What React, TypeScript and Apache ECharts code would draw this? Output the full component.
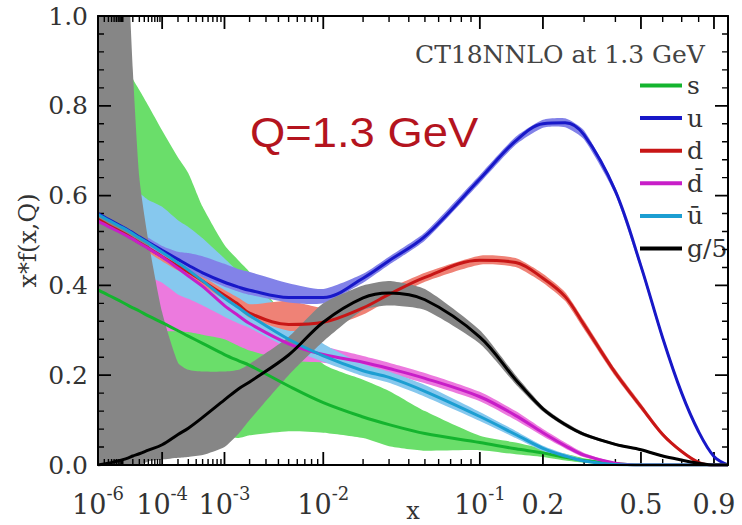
import React, { useEffect, useRef } from "react";
import * as echarts from "echarts";

// ---- data (x values and x*f(x,Q)) ----
const xValues = [1e-6, 3e-6, 1e-5, 1.5e-5, 2e-5, 3e-5, 5e-5, 1e-4, 2e-4, 3e-4, 5e-4, 1e-3, 1.5e-3, 2e-3, 5e-3, 0.01, 0.02, 0.03, 0.05, 0.1, 0.15, 0.2, 0.25, 0.3, 0.4, 0.5, 0.6, 0.7, 0.8, 0.9, 1.0];

const sCentral = [0.39, 0.378, 0.362, 0.355, 0.35, 0.343, 0.332, 0.317, 0.299, 0.287, 0.271, 0.246, 0.232, 0.222, 0.176, 0.139, 0.107, 0.09, 0.07, 0.05, 0.036, 0.027, 0.017, 0.01, 0.003, 0, 0, 0, 0, 0, 0];
const sUpper = [1.1, 1.0, 0.93, 0.89, 0.86, 0.835, 0.8, 0.745, 0.685, 0.65, 0.575, 0.49, 0.455, 0.43, 0.32, 0.225, 0.19, 0.165, 0.12, 0.065, 0.05, 0.036, 0.025, 0.015, 0.005, 0, 0, 0, 0, 0, 0];
const sLower = [0.1, 0.1, 0.1, 0.1, 0.1, 0.1, 0.1, 0.09, 0.08, 0.075, 0.07, 0.065, 0.06, 0.066, 0.075, 0.072, 0.06, 0.042, 0.032, 0.033, 0.024, 0.018, 0.01, 0.005, 0.001, 0, 0, 0, 0, 0, 0];

const uCentral = [0.56, 0.547, 0.53, 0.523, 0.517, 0.508, 0.496, 0.478, 0.458, 0.445, 0.428, 0.407, 0.396, 0.389, 0.373, 0.373, 0.416, 0.455, 0.509, 0.637, 0.722, 0.76, 0.762, 0.735, 0.61, 0.443, 0.283, 0.16, 0.074, 0.019, 0];
const uUpper = [0.57, 0.557, 0.54, 0.533, 0.527, 0.518, 0.506, 0.488, 0.475, 0.472, 0.465, 0.448, 0.436, 0.43, 0.405, 0.392, 0.426, 0.464, 0.518, 0.646, 0.731, 0.769, 0.772, 0.745, 0.618, 0.451, 0.29, 0.166, 0.078, 0.021, 0];
const uLower = [0.55, 0.537, 0.52, 0.513, 0.507, 0.498, 0.486, 0.468, 0.448, 0.435, 0.418, 0.397, 0.386, 0.379, 0.362, 0.36, 0.406, 0.446, 0.5, 0.628, 0.713, 0.751, 0.752, 0.725, 0.602, 0.435, 0.276, 0.154, 0.07, 0.017, 0];

const dCentral = [0.547, 0.534, 0.517, 0.51, 0.504, 0.495, 0.483, 0.464, 0.443, 0.43, 0.41, 0.378, 0.357, 0.338, 0.313, 0.318, 0.35, 0.38, 0.418, 0.456, 0.451, 0.416, 0.375, 0.312, 0.205, 0.13, 0.068, 0.03, 0.006, 0, 0];
const dUpper = [0.557, 0.544, 0.527, 0.52, 0.514, 0.505, 0.493, 0.474, 0.453, 0.44, 0.42, 0.39, 0.372, 0.358, 0.366, 0.35, 0.367, 0.393, 0.428, 0.466, 0.461, 0.426, 0.385, 0.322, 0.213, 0.137, 0.073, 0.033, 0.008, 0, 0];
const dLower = [0.537, 0.524, 0.507, 0.5, 0.494, 0.485, 0.473, 0.454, 0.433, 0.42, 0.4, 0.368, 0.347, 0.328, 0.299, 0.303, 0.335, 0.367, 0.408, 0.446, 0.441, 0.406, 0.365, 0.302, 0.197, 0.123, 0.063, 0.027, 0.004, 0, 0];

const dbarCentral = [0.543, 0.531, 0.515, 0.508, 0.503, 0.494, 0.482, 0.463, 0.438, 0.421, 0.398, 0.355, 0.332, 0.315, 0.27, 0.246, 0.229, 0.215, 0.193, 0.152, 0.11, 0.072, 0.043, 0.022, 0.004, 0, 0, 0, 0, 0, 0];
const dbarUpper = [0.65, 0.64, 0.625, 0.615, 0.605, 0.595, 0.58, 0.55, 0.52, 0.5, 0.47, 0.42, 0.38, 0.35, 0.298, 0.265, 0.243, 0.228, 0.205, 0.163, 0.12, 0.08, 0.05, 0.027, 0.006, 0, 0, 0, 0, 0, 0];
const dbarLower = [0.44, 0.43, 0.41, 0.4, 0.385, 0.37, 0.34, 0.3, 0.298, 0.296, 0.29, 0.28, 0.265, 0.255, 0.232, 0.228, 0.215, 0.203, 0.182, 0.142, 0.1, 0.064, 0.037, 0.017, 0.002, 0, 0, 0, 0, 0, 0];

const ubarCentral = [0.558, 0.545, 0.528, 0.521, 0.515, 0.506, 0.494, 0.474, 0.45, 0.434, 0.41, 0.372, 0.35, 0.333, 0.28, 0.243, 0.21, 0.195, 0.164, 0.108, 0.068, 0.037, 0.02, 0.009, 0.001, 0, 0, 0, 0, 0, 0];
const ubarUpper = [0.66, 0.645, 0.63, 0.62, 0.61, 0.605, 0.59, 0.575, 0.545, 0.53, 0.505, 0.46, 0.43, 0.41, 0.33, 0.27, 0.225, 0.208, 0.178, 0.118, 0.076, 0.043, 0.025, 0.012, 0.002, 0, 0, 0, 0, 0, 0];
const ubarLower = [0.47, 0.46, 0.45, 0.445, 0.44, 0.43, 0.42, 0.406, 0.38, 0.37, 0.355, 0.33, 0.315, 0.305, 0.26, 0.23, 0.198, 0.183, 0.152, 0.098, 0.06, 0.031, 0.015, 0.006, 0, 0, 0, 0, 0, 0, 0];

const gCentral = [0, 0.004, 0.012, 0.016, 0.02, 0.025, 0.033, 0.045, 0.068, 0.082, 0.106, 0.145, 0.17, 0.185, 0.245, 0.318, 0.372, 0.383, 0.368, 0.285, 0.19, 0.125, 0.09, 0.068, 0.046, 0.034, 0.02, 0.011, 0.004, 0, 0];
const gUpper = [5, 3, 1.6, 1.1, 0.88, 0.64, 0.5, 0.34, 0.228, 0.212, 0.208, 0.208, 0.212, 0.225, 0.285, 0.36, 0.4, 0.41, 0.392, 0.3, 0.2, 0.131, 0.095, 0.072, 0.049, 0.036, 0.022, 0.012, 0.005, 0, 0];
const gLower = [-0.5, -0.2, -0.03, -0.01, 0, 0, 0.008, 0.012, 0.016, 0.018, 0.022, 0.04, 0.07, 0.1, 0.2, 0.275, 0.345, 0.355, 0.345, 0.27, 0.18, 0.119, 0.085, 0.064, 0.043, 0.032, 0.018, 0.01, 0.003, 0, 0];

const seriesNames = ["s", "u", "d", "d\u0304", "u\u0304", "g/5"];

// ---- ticks ----
const majorTicks = [1e-6, 1e-4, 1e-3, 1e-2, 1e-1, 0.2, 0.5, 0.9];
const majorTickLabels = ["10^-6", "10^-4", "10^-3", "10^-2", "10^-1", "0.2", "0.5", "0.9"];
const minorMultipliers = [2, 3, 4, 5, 6, 7, 8, 9];
const minorDecades = [1e-6, 1e-5, 1e-4, 1e-3, 1e-2];
const extraMinorTicks = [1e-5, 0.3, 0.4, 0.6, 0.7, 0.8];
const yMajorTicks = [0, 0.2, 0.4, 0.6, 0.8, 1.0];
const yMinorStep = 0.04;

// x axis is drawn in x^0.2
const POW = 0.2;
const tx = (x: number) => Math.pow(x, POW);
const tMin = tx(1e-6);
const tMax = 1;

const majorT = majorTicks.map(tx);
const minorT: number[] = [];
minorDecades.forEach((d) => minorMultipliers.forEach((m) => minorT.push(tx(m * d))));
extraMinorTicks.forEach((v) => minorT.push(tx(v)));
const yMinorTicks: number[] = [];
for (let k = 1; k < 25; k++) if (k % 5 !== 0) yMinorTicks.push(k * yMinorStep);

const SERIF = "DejaVu Serif";
const TEXT = "#333";

// plot size in px, used only to turn tick lengths (px) into data units
const PLOT_W = 742 - 98 - 14;
const PLOT_H = 525 - 16 - 60;
const yLen = (px: number) => px / PLOT_H;
const xLen = (px: number) => (px / PLOT_W) * (tMax - tMin);

function lineData(arr: number[]) {
  return xValues.map((x, i) => [tx(x), arr[i]]);
}

function band(name: string, upper: number[], lower: number[], color: string, z: number) {
  return {
    type: "custom",
    name,
    z,
    clip: true,
    silent: true,
    data: [[tx(xValues[0]), lower[0]]],
    renderItem: (params: any, api: any) => {
      const pts: number[][] = [];
      for (let i = 0; i < xValues.length; i++) pts.push(api.coord([tx(xValues[i]), upper[i]]));
      for (let i = xValues.length - 1; i >= 0; i--) pts.push(api.coord([tx(xValues[i]), lower[i]]));
      return {
        type: "polygon",
        shape: { points: pts, smooth: 0.2 },
        style: { fill: color, stroke: null },
      };
    },
  };
}

function line(name: string, arr: number[], color: string) {
  return {
    type: "line",
    name,
    z: 10,
    data: lineData(arr),
    smooth: 0.35,
    showSymbol: false,
    symbol: "none",
    clip: true,
    silent: true,
    color,
    lineStyle: { width: 3, color },
    itemStyle: { color },
  };
}

// inward ticks on all four sides as broken line segments in data space
function tickSeries(name: string, xs: number[], ys: number[], lenPx: number, width: number) {
  const pts: any[] = [];
  xs.forEach((t) => {
    pts.push([t, 0], [t, yLen(lenPx)], [t, "-"]);
    pts.push([t, 1], [t, 1 - yLen(lenPx)], [t, "-"]);
  });
  ys.forEach((v) => {
    pts.push([tMin, v], [tMin + xLen(lenPx), v], [tMin + xLen(lenPx), "-"]);
    pts.push([tMax, v], [tMax - xLen(lenPx), v], [tMax - xLen(lenPx), "-"]);
  });
  return {
    type: "line",
    name,
    z: 9,
    data: pts,
    showSymbol: false,
    symbol: "none",
    connectNulls: false,
    clip: false,
    silent: true,
    color: "#000",
    lineStyle: { width, color: "#000" },
  };
}

function tickLabel(v: number) {
  let idx = -1;
  majorT.forEach((t, i) => {
    if (Math.abs(t - v) < 1e-6) idx = i;
  });
  if (idx < 0) return "";
  const s = majorTickLabels[idx];
  if (s.indexOf("^") >= 0) {
    const [base, exp] = s.split("^");
    return `{b|${base}}{s|${exp}}`;
  }
  return `{b|${s}}`;
}

export default function App() {
  const ref = useRef<HTMLDivElement>(null);
  useEffect(() => {
    if (!ref.current) return;
    const chart = echarts.init(ref.current, null, { renderer: "svg" });
    const frameLine = { show: true, onZero: false, lineStyle: { color: "#000", width: 2 } };
    chart.setOption({
      animation: false,
      backgroundColor: "#fff",
      grid: { left: 98, right: 14, top: 16, bottom: 60, containLabel: false, outerBoundsMode: "none" },
      xAxis: [
        {
          type: "value",
          min: tMin,
          max: tMax,
          position: "bottom",
          z: 20,
          splitLine: { show: false },
          axisLine: frameLine,
          axisTick: { show: false },
          axisLabel: {
            show: true,
            customValues: majorT,
            formatter: tickLabel,
            margin: 19,
            rich: {
              b: { fontFamily: SERIF, fontSize: 27, color: TEXT, lineHeight: 34, verticalAlign: "bottom" },
              s: { fontFamily: SERIF, fontSize: 18, color: TEXT, lineHeight: 16, verticalAlign: "top" },
            },
          },
          name: "x",
          nameLocation: "middle",
          nameGap: 34,
          nameMoveOverlap: false,
          nameTextStyle: { fontFamily: SERIF, fontSize: 24, color: TEXT, lineHeight: 24 },
        },
        {
          type: "value",
          min: tMin,
          max: tMax,
          position: "top",
          z: 20,
          splitLine: { show: false },
          axisLine: frameLine,
          axisTick: { show: false },
          axisLabel: { show: false },
        },
      ],
      yAxis: [
        {
          type: "value",
          min: 0,
          max: 1,
          interval: 0.2,
          position: "left",
          z: 20,
          axisLine: frameLine,
          axisTick: { show: false },
          splitLine: { show: false },
          axisLabel: {
            formatter: (v: number) => v.toFixed(1),
            fontFamily: SERIF,
            fontSize: 25,
            color: TEXT,
            margin: 10,
          },
          name: "x*f(x,Q)",
          nameLocation: "middle",
          nameRotate: 90,
          nameGap: 58,
          nameMoveOverlap: false,
          nameTextStyle: { fontFamily: SERIF, fontSize: 24, color: TEXT },
        },
        {
          type: "value",
          min: 0,
          max: 1,
          interval: 0.2,
          position: "right",
          z: 20,
          axisLine: frameLine,
          axisTick: { show: false },
          splitLine: { show: false },
          axisLabel: { show: false },
        },
      ],
      legend: {
        data: seriesNames,
        orient: "vertical",
        left: 635,
        top: 68,
        icon: "rect",
        itemWidth: 42,
        itemHeight: 4,
        itemGap: 7.6,
        selectedMode: false,
        textStyle: { fontFamily: SERIF, fontSize: 25, color: TEXT, lineHeight: 25 },
      },
      graphic: [
        {
          type: "text",
          x: 415,
          y: 54,
          z: 100,
          style: {
            text: "CT18NNLO at 1.3 GeV",
            fontFamily: SERIF,
            fontSize: 25,
            fill: "#444",
            verticalAlign: "middle",
          },
        },
        {
          type: "text",
          x: 250,
          y: 132,
          z: 100,
          scaleX: 1.08,
          style: {
            text: "Q=1.3 GeV",
            fontFamily: "Liberation Sans",
            fontSize: 42,
            fill: "#b4141e",
            verticalAlign: "middle",
          },
        },
      ],
      series: [
        band("s band", sUpper, sLower, "#6ade6a", 1),
        band("dbar band", dbarUpper, dbarLower, "#ec7ade", 2),
        band("ubar band", ubarUpper, ubarLower, "#86c8ee", 3),
        band("d band", dUpper, dLower, "#ef8276", 4),
        band("u band", uUpper, uLower, "#8282e8", 5),
        band("g band", gUpper, gLower, "#868686", 6),
        tickSeries("major ticks", majorT, yMajorTicks, 13, 1.8),
        tickSeries("minor ticks", minorT, yMinorTicks, 6, 1.4),
        line(seriesNames[0], sCentral, "#14b42e"),
        line(seriesNames[1], uCentral, "#1818c8"),
        line(seriesNames[2], dCentral, "#c81616"),
        line(seriesNames[3], dbarCentral, "#c81ec8"),
        line(seriesNames[4], ubarCentral, "#1c9ed2"),
        line(seriesNames[5], gCentral, "#000000"),
      ],
    });
    return () => chart.dispose();
  }, []);
  return (
    <div
      ref={ref}
      style={{ position: "fixed", left: 0, top: 0, width: 742, height: 525, background: "#fff" }}
    />
  );
}
